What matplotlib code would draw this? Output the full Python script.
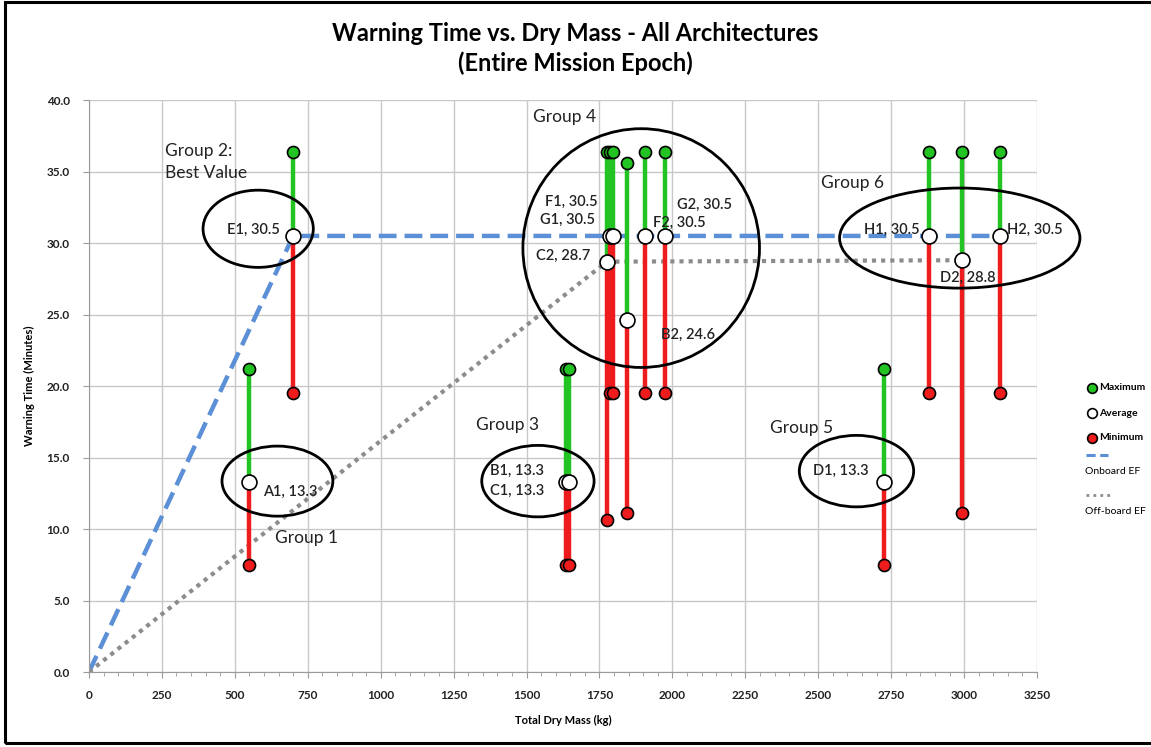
import matplotlib
matplotlib.use('Agg')
import matplotlib.pyplot as plt
from matplotlib.patches import Ellipse, Rectangle
from matplotlib.lines import Line2D
from matplotlib.ticker import MultipleLocator, FormatStrFormatter

plt.rcParams['font.family'] = ['Lato', 'DejaVu Sans']

# architecture results: total dry mass (kg) and warning time (minutes)
names = ['A1', 'E1', 'B1', 'C1', 'C2', 'F1', 'G1', 'B2', 'F2', 'G2', 'D1', 'H1', 'D2', 'H2']
mass = [550, 700, 1635, 1645, 1775, 1785, 1795, 1845, 1907, 1975, 2724, 2878, 2992, 3123]
wt_avg = [13.3, 30.5, 13.3, 13.3, 28.7, 30.5, 30.5, 24.6, 30.5, 30.5, 13.3, 30.5, 28.8, 30.5]
wt_max = [21.2, 36.4, 21.2, 21.2, 36.4, 36.4, 36.4, 35.6, 36.4, 36.4, 21.2, 36.4, 36.4, 36.4]
wt_min = [7.5, 19.5, 7.5, 7.5, 10.6, 19.5, 19.5, 11.1, 19.5, 19.5, 7.5, 19.5, 11.1, 19.5]

# efficient frontiers start at the origin and run through these architectures
onboard_ef = ['E1', 'H2']
offboard_ef = ['C2', 'D2']

GREEN = '#22c322'
RED = '#ee1c1c'
BLUE = '#5b8fd6'
GRAY = '#8c8c8c'

fig = plt.figure(figsize=(11.51, 7.47), dpi=100)
ax = fig.add_axes([0.0773, 0.1004, 0.8237, 0.7656])

idx = {n: i for i, n in enumerate(names)}


def frontier(keys):
    xs = [0] + [mass[idx[k]] for k in keys]
    ys = [0] + [wt_avg[idx[k]] for k in keys]
    return xs, ys


# range bars
for i in range(len(names)):
    ax.plot([mass[i], mass[i]], [wt_avg[i], wt_max[i]], color=GREEN, lw=3.2,
            solid_capstyle='butt', zorder=3)
    ax.plot([mass[i], mass[i]], [wt_avg[i], wt_min[i]], color=RED, lw=3.2,
            solid_capstyle='butt', zorder=3)

xs, ys = frontier(onboard_ef)
ax.plot(xs, ys, color=BLUE, lw=3.2, dashes=(4, 1.8), zorder=2)
xs, ys = frontier(offboard_ef)
ax.plot(xs, ys, color=GRAY, lw=3.0, dashes=(1, 1.2), zorder=2)

ax.scatter(mass, wt_max, s=75, color=GREEN, edgecolor='black', lw=1.2, zorder=5)
ax.scatter(mass, wt_min, s=75, color=RED, edgecolor='black', lw=1.2, zorder=5)
ax.scatter(mass, wt_avg, s=115, color='white', edgecolor='black', lw=1.2, zorder=6)

# group outlines
ellipses = [
    (646, 13.35, 380, 4.9),
    (580, 31.0, 378, 5.4),
    (1539, 13.35, 385, 5.0),
    (1893, 29.65, 811, 16.7),
    (2631, 14.05, 392, 5.0),
    (2985, 30.35, 824, 7.0),
]
for cx, cy, w, h in ellipses:
    ax.add_patch(Ellipse((cx, cy), w, h, fill=False, edgecolor='black', lw=2.0, zorder=7,
                         clip_on=False))

gfont = dict(fontsize=12.5, color='#222222', zorder=8)
ax.text(639, 9.4, 'Group 1', ha='left', va='center', **gfont)
ax.text(261, 37.0, 'Group 2:\nBest Value', ha='left', va='top', linespacing=1.45, **gfont)
ax.text(1326, 17.3, 'Group 3', ha='left', va='center', **gfont)
ax.text(1522, 38.8, 'Group 4', ha='left', va='center', **gfont)
ax.text(2336, 17.1, 'Group 5', ha='left', va='center', **gfont)
ax.text(2511, 34.2, 'Group 6', ha='left', va='center', **gfont)

# point labels: (name, x offset from the point, y, alignment)
lfont = dict(fontsize=10.5, color='#222222', fontweight='semibold', zorder=8)
point_labels = [
    ('E1', -45, 30.9, 'right'),
    ('A1', 48, 12.6, 'left'),
    ('B1', -75, 14.1, 'right'),
    ('C1', -85, 12.7, 'right'),
    ('F1', -40, 32.9, 'right'),
    ('G1', -60, 31.6, 'right'),
    ('C2', -55, 29.1, 'right'),
    ('G2', 40, 32.7, 'left'),
    ('F2', 25, 31.4, 'left'),
    ('B2', 115, 23.6, 'left'),
    ('H1', -30, 30.9, 'right'),
    ('D2', -75, 27.6, 'left'),
    ('H2', 25, 30.9, 'left'),
    ('D1', -50, 14.1, 'right'),
]
for key, dx, y, ha in point_labels:
    i = idx[key]
    ax.text(mass[i] + dx, y, f'{key}, {wt_avg[i]}', ha=ha, va='center', clip_on=False, **lfont)

ax.set_xlim(0, 3250)
ax.set_ylim(0, 40)
ax.xaxis.set_major_locator(MultipleLocator(250))
ax.xaxis.set_minor_locator(MultipleLocator(50))
ax.yaxis.set_major_locator(MultipleLocator(5))
ax.yaxis.set_major_formatter(FormatStrFormatter('%.1f'))
ax.grid(True, which='major', color='#c8c8c8', lw=1.0)
ax.set_axisbelow(True)
for side in ['top', 'right']:
    ax.spines[side].set_visible(False)
for side in ['left', 'bottom']:
    ax.spines[side].set_color('#9a9a9a')
ax.tick_params(axis='both', which='major', labelsize=8.5, colors='#9a9a9a', labelcolor='#222222',
               length=4)
ax.tick_params(axis='x', which='minor', length=3, colors='#9a9a9a')
ax.tick_params(axis='y', which='major', pad=10)
ax.tick_params(axis='x', which='major', pad=9)
for lab in ax.get_xticklabels() + ax.get_yticklabels():
    lab.set_fontweight('bold')

ax.set_xlabel('Total Dry Mass (kg)', fontsize=8, fontweight='bold', labelpad=10)
ax.set_ylabel('Warning Time (Minutes)', fontsize=8, fontweight='bold', labelpad=8)

fig.text(0.5, 0.935, 'Warning Time vs. Dry Mass - All Architectures\n(Entire Mission Epoch)',
         ha='center', va='center', fontsize=17, fontweight='bold', linespacing=1.3)

# legend drawn at the right edge of the figure
W, H = 1151, 747


def fx(px):
    return px / W


def fy(py):
    return 1 - py / H


legend_items = [('Maximum', GREEN, 388), ('Average', 'white', 413), ('Minimum', RED, 438)]
for label, col, py in legend_items:
    fig.add_artist(Line2D([fx(1092)], [fy(py)], marker='o', ms=7, mfc=col, mec='black', mew=1.2,
                          transform=fig.transFigure))
    fig.text(fx(1099), fy(py), label, ha='left', va='center', fontsize=7.5, fontweight='bold')

fig.add_artist(Line2D([fx(1086), fx(1108)], [fy(455), fy(455)], color=BLUE, lw=2.2,
                      dashes=(3, 1.5), transform=fig.transFigure))
fig.text(fx(1085), fy(472), 'Onboard EF', ha='left', va='center', fontsize=7.5)
fig.add_artist(Line2D([fx(1086), fx(1110)], [fy(495), fy(495)], color=GRAY, lw=2.0,
                      dashes=(1, 1.5), transform=fig.transFigure))
fig.text(fx(1085), fy(512), 'Off-board EF', ha='left', va='center', fontsize=7.5)

# outer frame
fig.add_artist(Rectangle((fx(5), fy(743)), 1.2, fy(2) - fy(743), fill=False, edgecolor='black',
                         lw=2.2, transform=fig.transFigure))

fig.savefig('out.png', dpi=100)
